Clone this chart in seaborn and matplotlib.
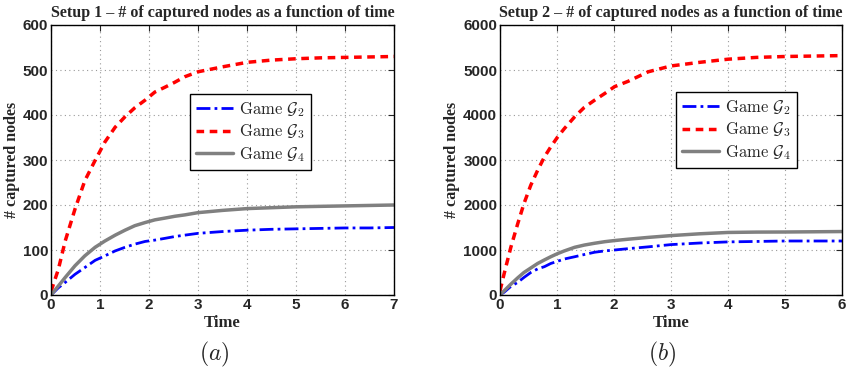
import numpy as np
import pandas as pd
import matplotlib
matplotlib.use("Agg")
import matplotlib.pyplot as plt
import seaborn as sns

# Setup 1 data
t1 = [0, 0.15, 0.29, 0.49, 0.69, 0.9, 1.1, 1.31, 1.51, 1.71, 1.92, 2.12, 2.33,
      2.53, 2.73, 3.0, 3.5, 4, 4.5, 5, 5.5, 6, 6.5, 7]
g2_1 = [0, 16, 28, 46, 61, 77, 87, 98, 106, 113, 119, 122, 126, 130, 133, 137,
        141, 144, 146, 147, 148, 149, 149, 150]
g3_1 = [8, 57, 120, 191, 254, 299, 340, 373, 396, 416, 433, 451, 462, 473, 485,
        496, 507, 517, 522, 525, 527, 528, 529, 530]
g4_1 = [0, 20, 39, 65, 87, 106, 120, 133, 144, 154, 161, 167, 171, 175, 178, 183,
        188, 192, 194, 196, 197, 198, 199, 200]

# Setup 2 data
t2 = [0, 0.07, 0.19, 0.31, 0.42, 0.54, 0.66, 0.78, 0.89, 1.01, 1.13, 1.31, 1.48,
      1.66, 1.84, 2.01, 2.25, 2.6, 3.0, 3.5, 4, 4.5, 5, 5.5, 6]
g2_2 = [0, 60, 190, 280, 390, 500, 580, 630, 700, 750, 800, 850, 900, 950, 980,
        1000, 1030, 1070, 1120, 1155, 1180, 1190, 1200, 1200, 1200]
g3_2 = [90, 460, 1060, 1580, 2030, 2440, 2770, 3070, 3290, 3510, 3700, 3960, 4170,
        4330, 4480, 4630, 4750, 4960, 5090, 5170, 5240, 5280, 5300, 5310, 5320]
g4_2 = [0, 90, 240, 380, 500, 600, 700, 780, 850, 920, 980, 1060, 1110, 1150, 1185,
        1210, 1240, 1280, 1320, 1360, 1390, 1398, 1400, 1405, 1410]

titles = ["Setup 1 \u2013 # of captured nodes as a function of time",
          "Setup 2 \u2013 # of captured nodes as a function of time"]
labels = [r"$\mathrm{Game}\ \mathcal{G}_2$", r"$\mathrm{Game}\ \mathcal{G}_3$",
          r"$\mathrm{Game}\ \mathcal{G}_4$"]
panel_labels = [r"$(a)$", r"$(b)$"]

sns.set_style("white")
plt.rcParams["mathtext.fontset"] = "cm"
plt.rcParams["font.family"] = ["DejaVu Sans"]

fig = plt.figure(figsize=(8.48, 3.71), dpi=100)
ax1 = fig.add_axes([51/848, 1 - 295/371, 343/848, 270/371])
ax2 = fig.add_axes([500/848, 1 - 295/371, 342/848, 270/371])

styles = [dict(color="#0000ff", lw=2.0, dashes=(5, 1.5, 1, 1.5)),
          dict(color="#ff0000", lw=2.5, dashes=(2.2, 1.6)),
          dict(color="#808080", lw=2.5, dashes=())]

datasets = [(t1, [g2_1, g3_1, g4_1], 7, 600, 100),
            (t2, [g2_2, g3_2, g4_2], 6, 6000, 1000)]

legend_anchor = [(190, 94), (676, 92)]
panel_x = [214, 662]

for i, (ax, (t, series, xmax, ymax, ystep)) in enumerate(zip([ax1, ax2], datasets)):
    for s, lab, st in zip(series, labels, styles):
        df = pd.DataFrame({"t": t, "v": s})
        sns.lineplot(data=df, x="t", y="v", ax=ax, color=st["color"], lw=st["lw"], label=lab)
        l = ax.get_lines()[-1]
        if st["dashes"]:
            l.set_dashes(st["dashes"])
    ax.set_xlim(0, xmax)
    ax.set_ylim(0, ymax)
    ax.set_xticks(range(0, xmax + 1))
    ax.set_yticks(np.arange(0, ymax + 1, ystep))
    ax.grid(True, linestyle=(0, (1, 3)), color="#999999", lw=0.8)
    for sp in ax.spines.values():
        sp.set_color("black")
        sp.set_linewidth(1.0)
    ax.tick_params(direction="in", length=4, width=0.8, top=True, right=True,
                   labelsize=11, pad=2)
    for lbl in ax.get_xticklabels() + ax.get_yticklabels():
        lbl.set_fontfamily("Liberation Sans")
        lbl.set_fontweight("bold")
    ax.set_title(titles[i], fontfamily="Liberation Serif", fontweight="bold", fontsize=11.5, pad=5.5)
    ax.set_xlabel("Time", fontfamily="Liberation Serif", fontweight="bold", fontsize=12, labelpad=2)
    ax.set_ylabel("# captured nodes", fontfamily="Liberation Serif", fontweight="bold", fontsize=11.5, labelpad=2)
    x0, y0 = legend_anchor[i]
    leg = ax.legend(loc="upper left",
                    bbox_to_anchor=(x0 / 848, 1 - y0 / 371),
                    bbox_transform=fig.transFigure, frameon=True, fancybox=False,
                    edgecolor="black", framealpha=1, handlelength=2.2,
                    borderpad=0.35, labelspacing=0.22, handletextpad=0.4, borderaxespad=0,
                    prop={"size": 12})
    leg.get_frame().set_linewidth(1.0)
    fig.text(panel_x[i] / 848, 1 - 354 / 371, panel_labels[i], ha="center", va="center", fontsize=17)

fig.savefig("out.png", dpi=100)
